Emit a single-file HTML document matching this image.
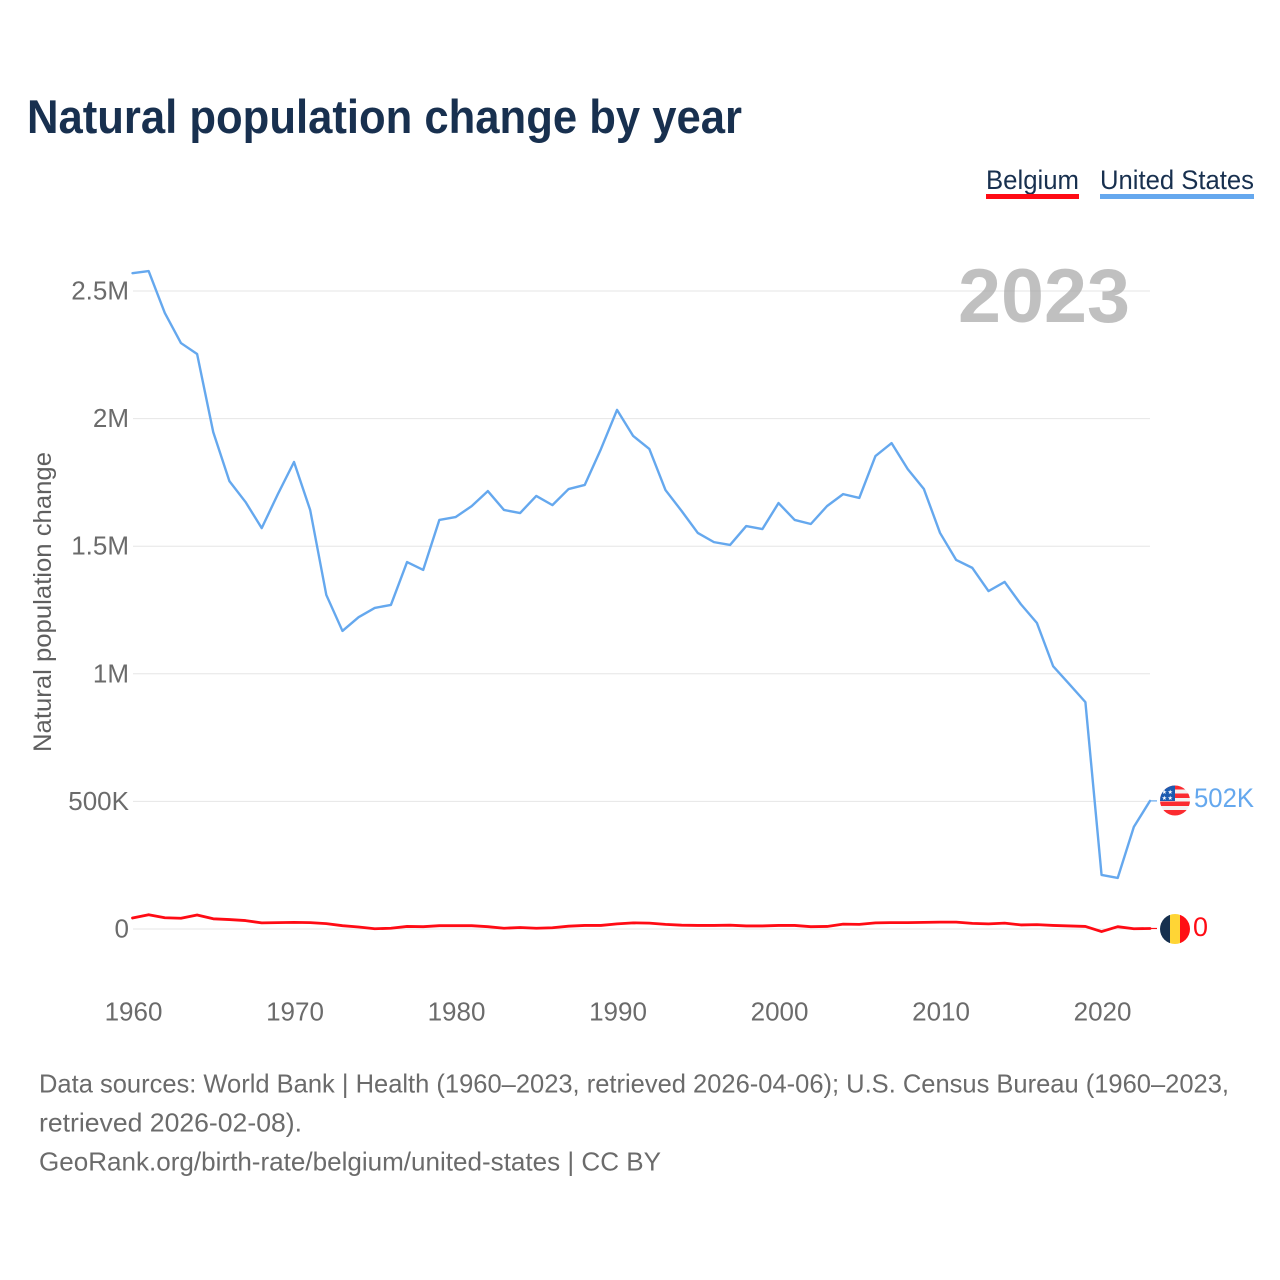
<!DOCTYPE html>
<html lang="en">
<head>
<meta charset="utf-8">
<title>Natural population change by year</title>
<style>
html,body{margin:0;padding:0;background:#fff;}
svg{display:block;font-family:"Liberation Sans",sans-serif;}
</style>
</head>
<body>
<svg id="chart" xmlns="http://www.w3.org/2000/svg" width="1280" height="1280" viewBox="0 0 1280 1280">
  <defs>
    <clipPath id="flag-clip-us"><circle cx="1175" cy="800.5" r="15"/></clipPath>
    <clipPath id="flag-clip-be"><circle cx="1175" cy="929" r="15"/></clipPath>
  </defs>
  <rect width="1280" height="1280" fill="#fff"/>
  <text x="27" y="133" font-size="47" font-weight="700" fill="#18304f" textLength="715" lengthAdjust="spacingAndGlyphs">Natural population change by year</text>

  <g>
    <g>
      <text x="986" y="189" font-size="27" fill="#18304f" textLength="93" lengthAdjust="spacingAndGlyphs">Belgium</text>
      <rect x="986" y="194" width="93" height="5" fill="#ff0b14"/>
    </g>
    <g>
      <text x="1100" y="189" font-size="27" fill="#18304f" textLength="154" lengthAdjust="spacingAndGlyphs">United States</text>
      <rect x="1100" y="194" width="154" height="5" fill="#65a8ee"/>
    </g>
  </g>

  <text transform="translate(51,602) rotate(-90)" text-anchor="middle" font-size="25" fill="#5f5f5f" textLength="300" lengthAdjust="spacingAndGlyphs">Natural population change</text>

  <g id="grid"></g>
  <g id="yticks"></g>
  <g id="xticks"></g>

  <text id="year-label" x="958" y="322" font-size="76" font-weight="700" fill="#a8a8a8" fill-opacity="0.72" textLength="172" lengthAdjust="spacingAndGlyphs">2023</text>

  <g id="series"></g>

  <g clip-path="url(#flag-clip-us)">
    <rect x="1160" y="785" width="30" height="31" fill="#f2f2f2"/>
    <rect x="1160" y="785.5" width="30" height="4" fill="#fb2b30"/>
    <rect x="1160" y="793.5" width="30" height="4.5" fill="#fb2b30"/>
    <rect x="1160" y="801.5" width="30" height="4.5" fill="#fb2b30"/>
    <rect x="1160" y="810" width="30" height="6" fill="#fb2b30"/>
    <rect x="1160" y="785" width="15" height="16" fill="#1c5bb0"/>
    <text x="1167.5" y="794" text-anchor="middle" font-size="6" letter-spacing="0.5" fill="#fff">★★</text>
    <text x="1167.5" y="800" text-anchor="middle" font-size="6" letter-spacing="0.5" fill="#fff">★★</text>
  </g>
  <g clip-path="url(#flag-clip-be)">
    <rect x="1160" y="914" width="10" height="30" fill="#16304f"/>
    <rect x="1170" y="914" width="10" height="30" fill="#ffd535"/>
    <rect x="1180" y="914" width="10" height="30" fill="#ff0f14"/>
  </g>

  <text id="end-label-us" x="1194" y="807" font-size="27" fill="#65a8ee" textLength="60" lengthAdjust="spacingAndGlyphs">502K</text>
  <text id="end-label-be" x="1193" y="936" font-size="27" fill="#ff0b14" textLength="15" lengthAdjust="spacingAndGlyphs">0</text>

  <g font-size="26" fill="#6b6b6b">
    <text x="39" y="1092.5" textLength="1190" lengthAdjust="spacingAndGlyphs">Data sources: World Bank | Health (1960–2023, retrieved 2026-04-06); U.S. Census Bureau (1960–2023,</text>
    <text x="39" y="1131.5" textLength="263" lengthAdjust="spacingAndGlyphs">retrieved 2026-02-08).</text>
    <text x="39" y="1170.5" textLength="622" lengthAdjust="spacingAndGlyphs">GeoRank.org/birth-rate/belgium/united-states | CC BY</text>
  </g>
</svg>

<script>
const firstYear = 1960;
const xTickYears = [1960, 1970, 1980, 1990, 2000, 2010, 2020];
const yTickValues = [0, 500000, 1000000, 1500000, 2000000, 2500000];
const yTickLabels = ['0', '500K', '1M', '1.5M', '2M', '2.5M'];
const unitedStates = [
  2570000, 2578000, 2414000, 2296000, 2253000, 1947000, 1755000, 1673000, 1571000, 1704000,
  1830000, 1642000, 1309000, 1168000, 1222000, 1258000, 1270000, 1438000, 1407000, 1603000,
  1614000, 1657000, 1716000, 1642000, 1630000, 1697000, 1661000, 1724000, 1740000, 1880000,
  2034000, 1932000, 1881000, 1720000, 1638000, 1552000, 1516000, 1505000, 1579000, 1567000,
  1669000, 1603000, 1587000, 1657000, 1704000, 1689000, 1853000, 1904000, 1802000, 1724000,
  1552000, 1446000, 1415000, 1324000, 1360000, 1273000, 1199000, 1030000, 960000, 889000,
  212000, 200000, 400000, 502000
];
const belgium = [
  43000, 56000, 44000, 42000, 55000, 40000, 37000, 33000, 24000, 25000,
  26000, 25000, 21000, 13000, 8000, 1000, 3000, 10000, 9000, 13000,
  13000, 13000, 9000, 3000, 6000, 3000, 5000, 11000, 14000, 14000,
  20000, 24000, 23000, 18000, 15000, 14000, 14000, 15000, 12000, 12000,
  14000, 14000, 9000, 10000, 19000, 18000, 24000, 25000, 25000, 26000,
  27000, 27000, 22000, 20000, 23000, 16000, 17000, 14000, 12000, 10000,
  -10000, 9000, 1000, 2000
];

const SVGNS = 'http://www.w3.org/2000/svg';
function xScale(year) { return 132.5 + (year - 1960) * (1017.5 / 63); }
function yScale(value) { return 929 - value * (638 / 2500000); }
function make(tag, attrs) {
  const el = document.createElementNS(SVGNS, tag);
  for (const k in attrs) el.setAttribute(k, attrs[k]);
  return el;
}

const grid = document.getElementById('grid');
const yticks = document.getElementById('yticks');
const xticks = document.getElementById('xticks');
const series = document.getElementById('series');

yTickValues.forEach(function (v, i) {
  const y = yScale(v);
  const line = make('line', { x1: 133, x2: 1150, y1: y, y2: y, stroke: '#e6e6e6', 'stroke-width': 1 });
  
  
  grid.appendChild(line);
  const t = make('text', { x: 129, y: y + 8.5, 'text-anchor': 'end', 'font-size': 26, fill: '#6b6b6b' });
  
  
  t.textContent = yTickLabels[i];
  yticks.appendChild(t);
});

xTickYears.forEach(function (yr) {
  const t = make('text', { x: xScale(yr) + 1, y: 1020.5, 'text-anchor': 'middle', 'font-size': 26, fill: '#6b6b6b' });
  
  
  t.textContent = yr;
  xticks.appendChild(t);
});

function drawSeries(values, color, name, width) {
  const pts = values.map(function (v, i) {
    return xScale(firstYear + i).toFixed(2) + ',' + yScale(v).toFixed(2);
  });
  const lastY = yScale(values[values.length - 1]);
  const lastX = xScale(firstYear + values.length - 1);
  const connector = make('line', { x1: lastX, x2: lastX + 7, y1: lastY, y2: lastY, stroke: color, 'stroke-width': 1.2 });
  
  
  series.appendChild(connector);
  const line = make('polyline', { points: pts.join(' '), fill: 'none', stroke: color, 'stroke-width': width, 'stroke-linejoin': 'round', 'stroke-linecap': 'round' });
  
  
  series.appendChild(line);
}
drawSeries(unitedStates, '#65a8ee', 'united-states', 2.4);
drawSeries(belgium, '#ff0b14', 'belgium', 2.8);
</script>
</body>
</html>
